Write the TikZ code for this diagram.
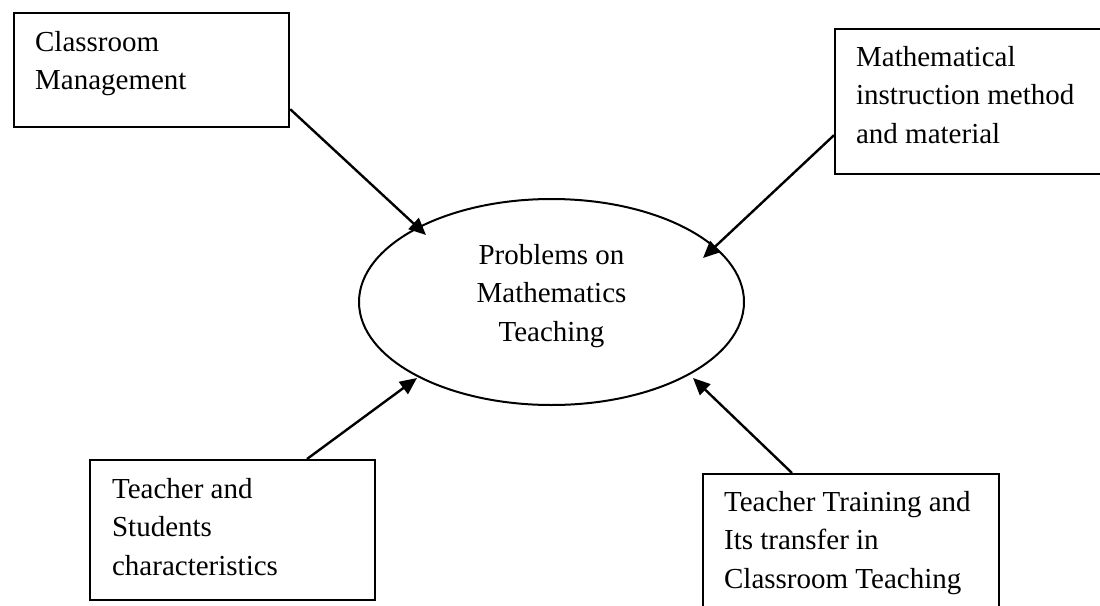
\documentclass[tikz,border=0pt]{standalone}
\usepackage{fontspec}
\setmainfont{Liberation Serif}
\usetikzlibrary{arrows.meta,calc,shapes.geometric}
\begin{document}
\begin{tikzpicture}[x=1pt,y=-1pt,
  every node/.style={font=\fontsize{29}{38.7}\selectfont},
  txtbox/.style={draw,line width=2.2pt,rectangle,anchor=north west,align=flush left,inner ysep=0pt},
  centre/.style={draw,line width=2pt,ellipse,minimum width=385pt,minimum height=206pt,inner sep=0pt,text width=200pt,align=flush center,text height=20pt,text depth=96pt},
  conn/.style={line width=2.4pt,-{Triangle[length=17pt,width=15pt]}}]
\useasboundingbox (0,0) rectangle (1100,605);
\clip (0,0) rectangle (1100,605);
\fill[white] (0,0) rectangle (1100,605);
\node[txtbox,inner xsep=21pt,text width=233pt,text height=38pt,text depth=76pt] (b1) at (13,12) {Classroom\\Management};
\node[txtbox,inner xsep=21pt,text width=239pt,text height=37pt,text depth=108pt] (b2) at (834,28) {Mathematical\\instruction method\\and material};
\node[txtbox,inner xsep=22pt,text width=241pt,text height=38pt,text depth=102pt] (b3) at (89,459) {Teacher and\\Students\\characteristics};
\node[txtbox,inner xsep=21pt,text width=254pt,text height=37pt,text depth=110pt] (b4) at (702,473) {Teacher Training and\\Its transfer in\\Classroom Teaching};
\node[centre] (e) at (551.5,302) {Problems on\\Mathematics\\Teaching};
\draw[conn] ($(b1.south east)+(0,-19)$) -- ($(e.center)+(-125.5,-67)$);
\draw[conn] ($(b2.south west)+(0,-40)$) -- ($(e.center)+(151.5,-44)$);
\draw[conn] ($(b3.north west)+(218,0)$) -- ($(e.center)+(-134.5,76)$);
\draw[conn] ($(b4.north west)+(90,0)$) -- ($(e.center)+(141.5,76)$);
\end{tikzpicture}
\end{document}
